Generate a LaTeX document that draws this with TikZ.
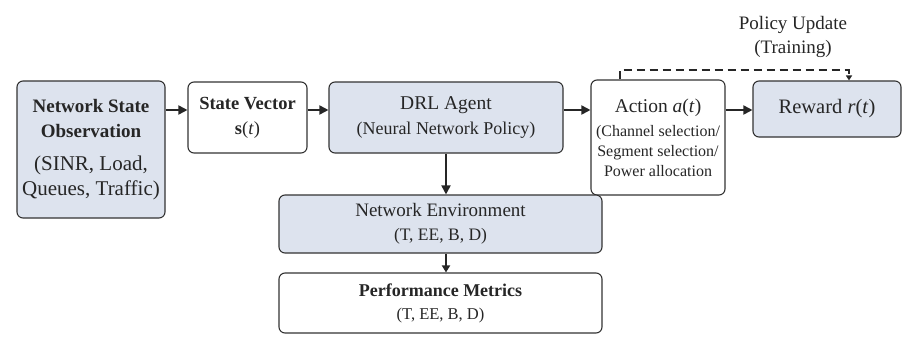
\documentclass[tikz,border=0pt]{standalone}
\usepackage{fontspec}
\setmainfont{Liberation Serif}
\usepackage{tikz}
\usetikzlibrary{arrows.meta}

\definecolor{boxfill}{RGB}{221,227,238}
\newcommand{\fsz}[2]{\fontsize{#1}{#2}\selectfont}

\begin{document}
\begin{tikzpicture}
[x=1pt,y=-1pt,
 box/.style={rectangle,rounded corners=6pt,draw=black!80,line width=1.1pt,
   inner sep=0pt,align=center,text=black!85},
 shaded/.style={box,fill=boxfill},
 plain/.style={box,fill=white},
 flow/.style={line width=1.8pt,draw=black!85,-{Triangle[length=9pt,width=9pt]}}]
\useasboundingbox (0,0) rectangle (906,343);
% top row
\node[shaded,minimum width=148pt,minimum height=137pt,font=\fsz{21}{25}] (obs) at (91,149.5)
  {{\fsz{19}{25}\bfseries Network State}\\{\fsz{19}{25}\bfseries Observation}\\[8pt]
   (SINR, Load,\\Queues, Traffic)};
\node[plain,minimum width=119pt,minimum height=71pt,font=\fsz{18.5}{25}] (vec) at (247.5,117.5)
  {\textbf{State Vector}\\{\bfseries s}(\textit{t})};
\node[shaded,minimum width=234pt,minimum height=71pt,font=\fsz{18}{25}] (drl) at (446,117.5)
  {{\fsz{19.5}{25}DRL Agent}\\(Neural Network Policy)};
\node[plain,minimum width=134pt,minimum height=115pt,font=\fsz{16}{20}] (act) at (658,137.5)
  {{\fsz{19.5}{24}Action \textit{a}(\textit{t})}\\[4pt](Channel selection/\\
   Segment selection/\\Power allocation};
\node[shaded,minimum width=148pt,minimum height=56pt,font=\fsz{20.5}{24}] (rew) at (827,109)
  {Reward \textit{r}(\textit{t})};
% bottom column
\node[shaded,minimum width=323pt,minimum height=58pt,font=\fsz{17.5}{24}] (env) at (440.5,224)
  {{\fsz{19}{24}Network Environment}\\(T, EE, B, D)};
\node[plain,minimum width=323pt,minimum height=60pt,font=\fsz{16.5}{23}] (perf) at (440.5,303)
  {{\fsz{18}{23}\bfseries Performance Metrics}\\(T, EE, B, D)};
\node[align=center,text=black!85,font=\fsz{19}{24}] (upd) at (793,37)
  {Policy Update\\(Training)};
% connectors
\path
(obs.east |- 0,110) edge[flow] (vec.west |- 0,110)
(vec.east |- 0,110) edge[flow] (drl.west |- 0,110)
(drl.east |- 0,110) edge[flow] (act.west |- 0,110)
(act.east |- 0,110) edge[flow] (rew.west |- 0,110)
(drl.south) edge[flow] (drl.south |- env.north)
(drl.south |- env.south) edge[flow,-{Triangle[length=7pt,width=8pt]}] (drl.south |- perf.north);
\draw[line width=1.6pt,dash pattern=on 8pt off 5pt,draw=black!85,-{Triangle[length=5pt,width=6pt]}]
  (act.north -| 620,0) -- (620,70) -- (849,70) -- (rew.north -| 849,0);
\end{tikzpicture}
\end{document}
